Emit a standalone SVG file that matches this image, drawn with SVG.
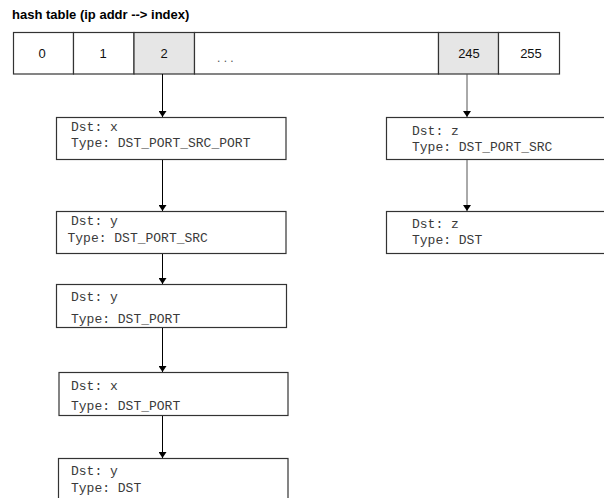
<svg xmlns="http://www.w3.org/2000/svg" width="604" height="498" viewBox="0 0 604 498">
  <defs>
    <marker id="arrow" viewBox="0 0 6 8" refX="6" refY="4" markerWidth="6" markerHeight="8" markerUnits="userSpaceOnUse" orient="auto">
      <path d="M0,0 L6,4 L0,8 Z" fill="#000"/>
    </marker>
    <style>
      .title { font-family: "Liberation Sans", Arial, sans-serif; font-weight: bold; font-size: 13px; fill: #000; }
      .cell { fill: #fff; stroke: #333; stroke-width: 1.2; }
      .cell.hit { fill: #e6e6e6; }
      .idx { font-family: "Liberation Sans", Arial, sans-serif; font-size: 13px; fill: #111; text-anchor: middle; }
      .dots { font-family: "Liberation Sans", Arial, sans-serif; font-size: 12px; fill: #555; }
      .box { fill: #fff; stroke: #333; stroke-width: 1.2; }
      .mono { font-family: "Liberation Mono", "Courier New", monospace; font-size: 13px; fill: #3a3a3a; }
      .link { stroke: #000; stroke-width: 1; fill: none; marker-end: url(#arrow); }
      .link.gray { stroke: #555; }
    </style>
  </defs>

  <rect width="604" height="498" fill="#fff"/>

  <text class="title" x="12" y="19">hash table (ip addr --&gt; index)</text>

  <!-- hash table buckets -->
  <g id="table">
    <rect class="cell" x="13.5" y="32.5" width="60" height="41.5"/>
    <rect class="cell" x="73.5" y="32.5" width="60.5" height="41.5"/>
    <rect class="cell hit" x="134" y="32.5" width="60.5" height="41.5"/>
    <rect class="cell" x="194.5" y="32.5" width="244" height="41.5"/>
    <rect class="cell hit" x="438.5" y="32.5" width="60" height="41.5"/>
    <rect class="cell" x="498.5" y="32.5" width="61" height="41.5"/>
    <text class="idx" x="42" y="58">0</text>
    <text class="idx" x="103" y="58">1</text>
    <text class="idx" x="164" y="58">2</text>
    <text class="dots" x="217" y="62">. . .</text>
    <text class="idx" x="469" y="58">245</text>
    <text class="idx" x="531" y="58">255</text>
  </g>

  <!-- chain for bucket 2 -->
  <g id="node-l1">
    <rect class="box" x="56.5" y="117.5" width="229.5" height="42"/>
    <text class="mono" x="71" y="131">Dst: x</text>
    <text class="mono" x="71" y="147">Type: DST_PORT_SRC_PORT</text>
  </g>
  <g id="node-l2">
    <rect class="box" x="56.5" y="211.5" width="229.5" height="42"/>
    <text class="mono" x="71" y="225">Dst: y</text>
    <text class="mono" x="67.5" y="242">Type: DST_PORT_SRC</text>
  </g>
  <g id="node-l3">
    <rect class="box" x="56.5" y="284.5" width="230" height="43"/>
    <text class="mono" x="71" y="301">Dst: y</text>
    <text class="mono" x="71" y="323">Type: DST_PORT</text>
  </g>
  <g id="node-l4">
    <rect class="box" x="59" y="372.5" width="229" height="43"/>
    <text class="mono" x="71" y="390">Dst: x</text>
    <text class="mono" x="71" y="410">Type: DST_PORT</text>
  </g>
  <g id="node-l5">
    <rect class="box" x="58.5" y="458.5" width="229.5" height="50"/>
    <text class="mono" x="71" y="475">Dst: y</text>
    <text class="mono" x="71" y="492">Type: DST</text>
  </g>

  <!-- chain for bucket 245 -->
  <g id="node-r1">
    <rect class="box" x="386.5" y="117.5" width="240" height="42"/>
    <text class="mono" x="412" y="135">Dst: z</text>
    <text class="mono" x="412" y="151">Type: DST_PORT_SRC</text>
  </g>
  <g id="node-r2">
    <rect class="box" x="386.5" y="211.5" width="240" height="42"/>
    <text class="mono" x="412" y="228">Dst: z</text>
    <text class="mono" x="412" y="244">Type: DST</text>
  </g>

  <!-- connectors -->
  <g id="links">
    <line class="link" x1="162.5" y1="74" x2="162.5" y2="117"/>
    <line class="link" x1="162.5" y1="160" x2="162.5" y2="211"/>
    <line class="link" x1="162.5" y1="254" x2="162.5" y2="284"/>
    <line class="link" x1="162.5" y1="328" x2="162.5" y2="372"/>
    <line class="link" x1="162.5" y1="416" x2="162.5" y2="458"/>
    <line class="link gray" x1="467" y1="74" x2="467" y2="117"/>
    <line class="link gray" x1="467" y1="160" x2="467" y2="211"/>
  </g>
</svg>
